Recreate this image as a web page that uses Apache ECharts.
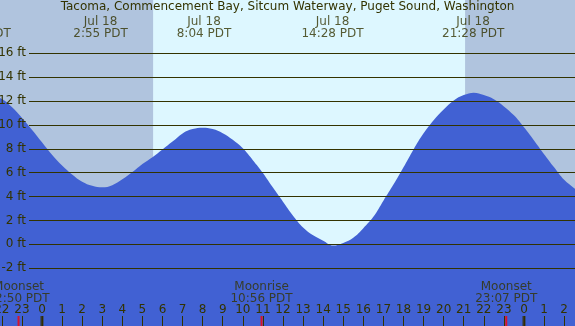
<!DOCTYPE html>
<html>
<head>
<meta charset="utf-8">
<script src="https://cdn.jsdelivr.net/npm/echarts@6/dist/echarts.min.js"></script>
<style>
  html, body { margin: 0; padding: 0; }
  #chart { width: 575px; height: 326px; }
</style>
</head>
<body>
<div id="chart"></div>
<script>
// 潮位数据 (小时, 英尺), 每半小时从图上读出
const tideHours = [-3, -2.5, -2, -1.5, -1, -0.5, 0, 0.5, 1, 1.5, 2, 2.5, 3, 3.5, 4, 4.5, 5, 5.5, 6, 6.5, 7, 7.5, 8, 8.5, 9, 9.5, 10, 10.5, 11, 11.5, 12, 12.5, 13, 13.5, 14, 14.5, 15, 15.5, 16, 16.5, 17, 17.5, 18, 18.5, 19, 19.5, 20, 20.5, 21, 21.5, 22, 22.5, 23, 23.5, 24, 24.5, 25, 25.5, 26, 26.5, 27];
const tideFeet = [12.6, 12.45, 12.17, 11.5, 10.6, 9.6, 8.55, 7.5, 6.6, 5.85, 5.24, 4.9, 4.77, 4.95, 5.44, 6.05, 6.73, 7.3, 7.95, 8.6, 9.29, 9.65, 9.77, 9.65, 9.3, 8.75, 8.04, 7.05, 5.98, 4.75, 3.57, 2.4, 1.41, 0.75, 0.3, -0.1, 0.12, 0.55, 1.35, 2.3, 3.65, 5.0, 6.45, 7.95, 9.3, 10.4, 11.3, 12.05, 12.5, 12.7, 12.5, 12.15, 11.55, 10.8, 9.8, 8.7, 7.55, 6.45, 5.4, 4.7, 4.0];

// 高低潮标注
const extremeDates = ['Jul 17', 'Jul 18', 'Jul 18', 'Jul 18', 'Jul 18'];
const extremeTimes = ['20:54', '2:55', '8:04', '14:28', '21:28'];
const extremeDayOffset = [-1, 0, 0, 0, 0];

// 月出月落
const moonNames = ['Moonset', 'Moonrise', 'Moonset'];
const moonTimes = ['22:50', '10:56', '23:07'];
const moonDayOffset = [-1, 0, 0];

// 日出日落 (夜间阴影)
const sunrise = '5:32';
const sunset = '21:04';

// 坐标轴刻度
const feetTicks = [-2, 0, 2, 4, 6, 8, 10, 12, 14, 16];
const hourTicks = [-2, -1, 0, 1, 2, 3, 4, 5, 6, 7, 8, 9, 10, 11, 12, 13, 14, 15, 16, 17, 18, 19, 20, 21, 22, 23, 24, 25, 26];
const midnightTicks = [0, 24];

const xMin = -2.09, xMax = 26.54;
const yMin = -6.84, yMax = 20.46;

const textColor = '#333300';
const fontFamily = 'DejaVu Sans';

function toHour(t, dayOffset) {
    const [h, m] = t.split(':').map(Number);
    return h + m / 60 + 24 * dayOffset;
}

function initChart() {
    const chart = echarts.init(document.getElementById('chart'));

    const option = {
        animation: false,
        backgroundColor: '#ddf7ff',
        title: {
            text: 'Tacoma, Commencement Bay, Sitcum Waterway, Puget Sound, Washington',
            left: 'center',
            top: 1,
            padding: 0,
            textStyle: { color: textColor, fontSize: 12, fontWeight: 'normal', fontFamily: fontFamily }
        },
        grid: [
            { left: 0, right: 0, top: 0, bottom: 0, outerBoundsMode: 'none' },
            { left: 29, right: 0, top: 0, bottom: 0, outerBoundsMode: 'none' }
        ],
        xAxis: [{
            gridIndex: 0,
            type: 'value',
            min: xMin,
            max: xMax,
            position: 'bottom',
            z: 10,
            splitLine: { show: false },
            axisLine: { show: false, onZero: false },
            axisTick: {
                inside: true,
                length: 10,
                customValues: hourTicks,
                lineStyle: { color: textColor, width: 1 }
            },
            axisLabel: {
                inside: true,
                margin: 10,
                customValues: hourTicks,
                color: textColor,
                fontSize: 12,
                fontFamily: fontFamily,
                formatter: v => String(((v % 24) + 24) % 24)
            }
        }, {
            gridIndex: 1,
            type: 'value',
            min: 0,
            max: 1,
            show: false
        }],
        yAxis: [{
            gridIndex: 0,
            type: 'value',
            min: yMin,
            max: yMax,
            show: false
        }, {
            gridIndex: 1,
            type: 'value',
            min: yMin,
            max: yMax,
            show: false
        }],
        series: [
            // 夜间阴影
            {
                type: 'line',
                xAxisIndex: 0,
                yAxisIndex: 0,
                data: [],
                z: 1,
                silent: true,
                markArea: {
                    silent: true,
                    itemStyle: { color: '#b0c4de' },
                    data: [
                        [{ xAxis: xMin - 5 }, { xAxis: toHour(sunrise, 0) }],
                        [{ xAxis: toHour(sunset, 0) }, { xAxis: xMax + 5 }]
                    ]
                }
            },
            // 潮位
            {
                type: 'line',
                xAxisIndex: 0,
                yAxisIndex: 0,
                z: 2,
                silent: true,
                smooth: 0.4,
                symbol: 'none',
                lineStyle: { width: 0 },
                areaStyle: { color: '#4161d3', opacity: 1, origin: 'start' },
                data: tideHours.map((h, i) => [h, tideFeet[i]])
            },
            // 网格线
            {
                type: 'line',
                xAxisIndex: 1,
                yAxisIndex: 1,
                z: 3,
                silent: true,
                data: [],
                markLine: {
                    silent: true,
                    symbol: 'none',
                    lineStyle: { color: textColor, width: 1, type: 'solid' },
                    label: {
                        position: 'start',
                        distance: 3,
                        color: textColor,
                        fontSize: 12,
                        fontFamily: fontFamily,
                        formatter: p => p.value + ' ft'
                    },
                    data: feetTicks.map(v => ({ yAxis: v }))
                }
            },
            // 高低潮时间
            {
                type: 'scatter',
                xAxisIndex: 0,
                yAxisIndex: 0,
                z: 4,
                silent: true,
                clip: false,
                symbolSize: 0,
                label: {
                    show: true,
                    position: 'inside',
                    color: textColor,
                    fontSize: 12,
                    lineHeight: 12,
                    fontFamily: fontFamily,
                    formatter: p => extremeDates[p.dataIndex] + '\n' + extremeTimes[p.dataIndex] + ' PDT'
                },
                data: extremeTimes.map((t, i) => [toHour(t, extremeDayOffset[i]), 18.1])
            },
            // 月出月落
            {
                type: 'scatter',
                xAxisIndex: 0,
                yAxisIndex: 0,
                z: 4,
                silent: true,
                clip: false,
                symbolSize: 0,
                label: {
                    show: true,
                    position: 'inside',
                    color: textColor,
                    fontSize: 12,
                    lineHeight: 12,
                    fontFamily: fontFamily,
                    formatter: p => moonNames[p.dataIndex] + '\n' + moonTimes[p.dataIndex] + ' PDT'
                },
                data: moonTimes.map((t, i) => [toHour(t, moonDayOffset[i]), -4.08])
            },
            // 月事件刻度 (红)
            {
                type: 'scatter',
                xAxisIndex: 0,
                yAxisIndex: 0,
                z: 12,
                silent: true,
                clip: false,
                symbol: 'rect',
                symbolSize: [2, 10],
                symbolOffset: [0, -5],
                itemStyle: { color: '#ff0000' },
                data: moonTimes.map((t, i) => [toHour(t, moonDayOffset[i]), yMin])
            },
            // 午夜刻度 (粗)
            {
                type: 'scatter',
                xAxisIndex: 0,
                yAxisIndex: 0,
                z: 12,
                silent: true,
                clip: false,
                symbol: 'rect',
                symbolSize: [3, 10],
                symbolOffset: [0, -5],
                itemStyle: { color: '#332e00' },
                data: midnightTicks.map(h => [h, yMin])
            }
        ]
    };

    chart.setOption(option);
}

document.addEventListener('DOMContentLoaded', initChart);
</script>
</body>
</html>
